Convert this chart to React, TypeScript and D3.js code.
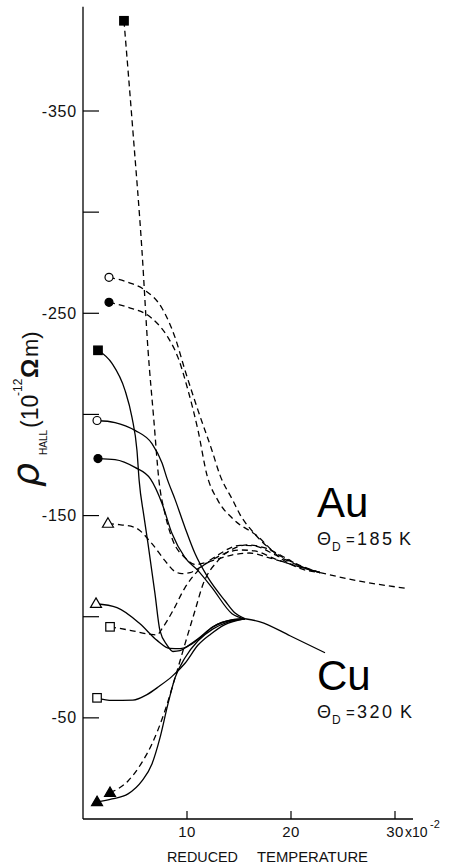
import React from "react";
import * as d3 from "d3";

type Pt = [number, number];

// ---- axis ticks ----
const xTicks = [10, 20, 30];
const xTickLabels = ["10", "20", "30"];
const yTicks = [-350, -300, -250, -200, -150, -100, -50];
const yTickLabels = ["-350", "", "-250", "", "-150", "", "-50"];

// ---- Au (dashed) series: reduced temperature (x10^-2), rho_Hall (10^-12 ohm m) ----
const auFilledSquare: Pt[] = [[3.94, -394.6], [4.8, -340], [5.67, -281], [6.25, -232], [6.8, -198], [7.31, -167], [7.88, -151], [8.65, -137.6], [9.81, -129.2], [10.77, -125.8], [12.3, -127.5], [14.3, -130.5], [16, -131.5], [18, -129], [20.9, -124.5], [22.8, -121.8]];
const auOpenCircle: Pt[] = [[2.5, -267.8], [4.33, -265.3], [5.96, -261.4], [7.6, -252.5], [8.85, -238.1], [9.81, -221.8], [11.06, -202], [12.4, -182.2], [13.17, -170], [14.42, -157.4], [15.1, -150.5], [16.5, -141], [17.98, -133.5], [20.58, -126], [22.8, -121.8]];
const auFilledCircle: Pt[] = [[2.5, -255.4], [4.33, -253], [6.63, -247.5], [8.17, -238.1], [9.13, -228.2], [10.1, -211.9], [11.06, -192.1], [11.92, -170], [12.98, -157.4], [14.5, -148], [16.73, -140], [18.94, -129.2], [20.8, -124], [22.8, -121.8]];
const auOpenTriangle: Pt[] = [[2.4, -146], [3.5, -145.5], [5.0, -144.1], [6.63, -136.1], [7.88, -127.7], [8.8, -122.5], [9.52, -121.3], [10.3, -121.8], [11.3, -124.5], [12.4, -128], [13.5, -131], [15.1, -133], [16.5, -132.5], [18.5, -128.5], [20.9, -124.5], [22.8, -121.8]];
const auOpenSquare: Pt[] = [[2.6, -95], [4.52, -93.3], [6.44, -91.3], [7.12, -91], [7.6, -94.1], [8.65, -103], [9.81, -114.4], [11.06, -122.8], [12.98, -130.5], [15.1, -135.3], [16.5, -135], [18.5, -130.5], [20.9, -125], [22.8, -121.8]];
const auFilledTriangle: Pt[] = [[2.6, -12.9], [4.33, -18.8], [5.67, -28], [6.63, -37.1], [7.88, -53.5], [8.85, -69.8], [9.81, -86.6], [10.77, -103], [11.54, -116], [12.98, -127.7], [14.62, -134], [15.8, -135.5], [17.5, -134], [19.5, -129], [20.9, -125], [22.8, -121.8]];
const auTail: Pt[] = [[22.8, -121.8], [26.6, -117.6], [31.25, -113.9]];

// ---- Cu (solid) series ----
const cuFilledSquare: Pt[] = [[1.44, -231.7], [2.79, -225.2], [4.04, -211.9], [4.71, -198.5], [5.19, -182.2], [5.4, -167.3], [5.85, -150], [6.25, -136.1], [6.92, -111.4], [7.4, -93.1], [8.08, -86], [8.65, -82.8], [9.33, -83.2], [10.1, -85.6], [11.06, -89.1], [12.5, -95], [14.42, -98.5], [15.58, -99]];
const cuOpenCircle: Pt[] = [[1.35, -197], [3.08, -196], [5.0, -192.1], [6.63, -185.6], [7.6, -176], [8.1, -168], [8.85, -158], [9.81, -144], [10.77, -131.2], [12.02, -119.3], [13.65, -107.9], [14.62, -101.8], [15.58, -99]];
const cuFilledCircle: Pt[] = [[1.44, -178.2], [3.08, -177.7], [5.0, -173.8], [6.5, -168], [7.6, -156], [8.56, -141.1], [9.81, -129.2], [11.06, -122.8], [12.4, -114.4], [14.33, -101.5], [15.58, -99]];
const cuOpenTriangle: Pt[] = [[1.25, -106.4], [3.27, -104.5], [5.48, -96.5], [7.12, -88.3], [8.37, -84.3], [9.33, -84.2], [10.3, -86], [11.25, -89.6], [12.5, -95], [14.42, -98.5], [15.58, -99]];
const cuOpenSquare: Pt[] = [[1.35, -59.9], [2.8, -58.6], [4.8, -58.8], [6.15, -61.5], [7.3, -65.5], [8.56, -70.5], [9.81, -77], [11.06, -86], [12.3, -91.5], [13.6, -96], [15.58, -99]];
const cuFilledTriangle: Pt[] = [[1.35, -8.4], [2.79, -9.9], [4.33, -12.4], [5.67, -18.8], [6.63, -27.2], [7.4, -40.1], [8.17, -56.9], [8.85, -69.8], [9.81, -79.7], [11.06, -88.1], [12.5, -94], [14.0, -97.5], [15.58, -99]];
const cuTail: Pt[] = [[15.58, -99], [17.02, -97.5], [19.9, -90.6], [23.27, -82.2]];

type Marker = "squareFilled" | "circleOpen" | "circleFilled" | "triangleOpen" | "squareOpen" | "triangleFilled" | "none";

const series: { pts: Pt[]; dashed: boolean; marker: Marker }[] = [
  { pts: auFilledSquare, dashed: true, marker: "squareFilled" },
  { pts: auOpenCircle, dashed: true, marker: "circleOpen" },
  { pts: auFilledCircle, dashed: true, marker: "circleFilled" },
  { pts: auOpenTriangle, dashed: true, marker: "triangleOpen" },
  { pts: auOpenSquare, dashed: true, marker: "squareOpen" },
  { pts: auFilledTriangle, dashed: true, marker: "triangleFilled" },
  { pts: auTail, dashed: true, marker: "none" },
  { pts: cuFilledSquare, dashed: false, marker: "squareFilled" },
  { pts: cuOpenCircle, dashed: false, marker: "circleOpen" },
  { pts: cuFilledCircle, dashed: false, marker: "circleFilled" },
  { pts: cuOpenTriangle, dashed: false, marker: "triangleOpen" },
  { pts: cuOpenSquare, dashed: false, marker: "squareOpen" },
  { pts: cuFilledTriangle, dashed: false, marker: "triangleFilled" },
  { pts: cuTail, dashed: false, marker: "none" },
];

const FONT = "'Liberation Sans', Arial, Helvetica, sans-serif";

function MarkerShape({ kind, cx, cy }: { kind: Marker; cx: number; cy: number }) {
  const sw = 1.2;
  if (kind === "squareFilled" || kind === "squareOpen") {
    const s = 8.5;
    return <rect x={cx - s / 2} y={cy - s / 2} width={s} height={s} fill={kind === "squareFilled" ? "#000" : "#fff"} stroke="#000" strokeWidth={sw} />;
  }
  if (kind === "circleFilled" || kind === "circleOpen") {
    return <circle cx={cx} cy={cy} r={4} fill={kind === "circleFilled" ? "#000" : "#fff"} stroke="#000" strokeWidth={sw} />;
  }
  if (kind === "triangleFilled" || kind === "triangleOpen") {
    const w = 11, h = 9.5;
    const d = `M${cx},${cy - h * 0.62}L${cx + w / 2},${cy + h * 0.38}L${cx - w / 2},${cy + h * 0.38}Z`;
    return <path d={d} fill={kind === "triangleFilled" ? "#000" : "#fff"} stroke="#000" strokeWidth={sw} strokeLinejoin="miter" />;
  }
  return null;
}

export default function App() {
  const x = d3.scaleLinear().domain([0, 30]).range([83, 395]);
  const y = d3.scaleLinear().domain([0, -350]).range([819, 111]);
  const line = d3
    .line<Pt>()
    .x((d) => x(d[0]))
    .y((d) => y(d[1]))
    .curve(d3.curveMonotoneX);

  const x0 = x(0);
  const yTop = y(-401.5);
  const yBot = y(0);
  const xEnd = x(31.73);

  return (
    <svg width={451} height={865} style={{ position: "absolute", left: 0, top: 0, background: "#fff" }} fontFamily={FONT}>
      <rect x={0} y={0} width={451} height={865} fill="#fff" />
      {/* axes */}
      <line x1={x0} y1={yTop} x2={x0} y2={yBot} stroke="#000" strokeWidth={1.3} />
      <line x1={x0} y1={yBot} x2={xEnd} y2={yBot} stroke="#000" strokeWidth={1.3} />
      {yTicks.map((t, i) => (
        <g key={"yt" + t}>
          <line x1={x0} x2={x0 + 16} y1={y(t)} y2={y(t)} stroke="#000" strokeWidth={1.2} />
          {yTickLabels[i] && (
            <text x={77} y={y(t) + 5.5} textAnchor="end" fontSize={16} letterSpacing={0.8} fill="#111">
              {yTickLabels[i]}
            </text>
          )}
        </g>
      ))}
      {xTicks.map((t, i) => (
        <g key={"xt" + t}>
          <line x1={x(t)} x2={x(t)} y1={yBot} y2={yBot - 8} stroke="#000" strokeWidth={1.2} />
          <text x={x(t)} y={837} textAnchor="middle" fontSize={15} letterSpacing={0.5} fill="#111">
            {xTickLabels[i]}
          </text>
        </g>
      ))}
      <text x={405} y={837} fontSize={14} fill="#111">x10</text>
      <text x={430} y={828} fontSize={11} fill="#111">-2</text>
      <text x={167} y={862} fontSize={15} textLength={71} lengthAdjust="spacingAndGlyphs" fill="#111">REDUCED</text>
      <text x={257} y={862} fontSize={15} textLength={111} lengthAdjust="spacingAndGlyphs" fill="#111">TEMPERATURE</text>

      {/* y label */}
      <g transform="translate(38,487) rotate(-90)" fill="#111">
        <text x={0} y={0} fontSize={38} fontStyle="italic" fontFamily="'DejaVu Sans', sans-serif">ρ</text>
        <text x={32} y={9} fontSize={10}>HALL</text>
        <text x={59} y={0} fontSize={23}>(10</text>
        <text x={91} y={-16} fontSize={12}>-12</text>
        <text x={109} y={0} fontSize={24} fontWeight="bold">Ω</text>
        <text x={130} y={0} fontSize={22}>m)</text>
      </g>

      {/* curves */}
      {series.map((s, i) => (
        <path key={"s" + i} d={line(s.pts) || ""} fill="none" stroke="#000" strokeWidth={1.3} strokeDasharray={s.dashed ? "6,4" : undefined} />
      ))}
      {series.map((s, i) =>
        s.marker === "none" ? null : <MarkerShape key={"m" + i} kind={s.marker} cx={x(s.pts[0][0])} cy={y(s.pts[0][1])} />
      )}

      {/* labels */}
      <text x={317} y={517} fontSize={42} fill="#000">Au</text>
      <text x={317} y={545} fontSize={18} fill="#111">Θ</text>
      <text x={332} y={551} fontSize={12} fill="#111">D</text>
      <text x={346} y={545} fontSize={15} fill="#111">=</text>
      <text x={357} y={545} fontSize={18} letterSpacing={2.5} fill="#111">185</text>
      <text x={399} y={545} fontSize={18} fill="#111">K</text>

      <text x={317} y={690} fontSize={42} fill="#000">Cu</text>
      <text x={317} y={718} fontSize={18} fill="#111">Θ</text>
      <text x={332} y={724} fontSize={12} fill="#111">D</text>
      <text x={346} y={718} fontSize={15} fill="#111">=</text>
      <text x={357} y={718} fontSize={18} letterSpacing={2.5} fill="#111">320</text>
      <text x={400} y={718} fontSize={18} fill="#111">K</text>
    </svg>
  );
}
